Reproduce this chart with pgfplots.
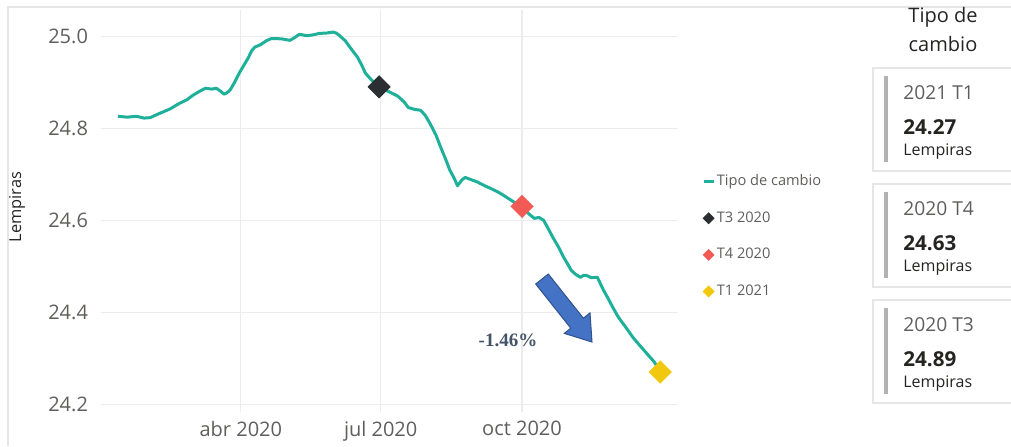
\documentclass[border=0pt]{standalone}
\usepackage{fontspec}
\setmainfont{Open Sans}
\newfontfamily\serifbold{Liberation Serif}
\usepackage{pgfplots}
\pgfplotsset{compat=1.18}

\definecolor{teal}{RGB}{31,176,154}
\definecolor{markdark}{RGB}{43,47,51}
\definecolor{markred}{RGB}{242,90,85}
\definecolor{markyellow}{RGB}{242,200,15}
\definecolor{txtgray}{RGB}{96,94,92}
\definecolor{txtdark}{RGB}{37,36,35}
\definecolor{gridgray}{RGB}{236,236,236}
\definecolor{cardline}{RGB}{230,230,230}
\definecolor{cardbar}{RGB}{178,178,178}
\definecolor{arrowfill}{RGB}{68,114,196}
\definecolor{arrowedge}{RGB}{47,82,143}
\definecolor{pcttext}{RGB}{68,84,106}

% daily exchange rate, days counted from 1 Jan 2020
\pgfplotstableread{
day rate
11 24.826
17 24.824
23 24.826
28 24.822
32 24.823
38 24.832
45 24.842
51 24.854
56 24.862
60 24.872
64 24.880
68 24.887
72 24.885
75 24.887
78 24.880
80 24.874
82 24.877
84 24.883
87 24.900
90 24.920
93 24.937
96 24.954
98 24.968
100 24.976
104 24.982
108 24.991
111 24.995
114 24.995
118 24.994
123 24.991
126 24.997
129 25.004
131 25.003
134 25.001
138 25.003
142 25.006
147 25.007
151 25.009
153 25.007
155 25.002
159 24.990
162 24.976
167 24.954
170 24.935
172 24.920
176 24.905
181 24.890
187 24.880
193 24.870
197 24.858
200 24.845
204 24.841
208 24.839
211 24.828
214 24.811
218 24.785
221 24.759
224 24.735
227 24.709
230 24.690
232 24.675
235 24.688
237 24.693
241 24.688
245 24.683
249 24.676
253 24.670
258 24.662
262 24.654
268 24.641
274 24.630
278 24.615
282 24.604
285 24.606
288 24.600
291 24.582
294 24.563
298 24.540
301 24.520
304 24.503
306 24.491
309 24.482
312 24.476
314 24.480
316 24.480
319 24.475
323 24.476
325 24.462
327 24.448
330 24.430
333 24.411
336 24.393
338 24.383
342 24.365
346 24.346
350 24.330
355 24.311
360 24.292
364 24.270
}\ratedata

\pgfplotsset{
  quarter mark/.style={only marks, mark=square*, mark size=3.9pt,
    mark options={rotate=45, fill=#1, draw=#1},
    legend image code/.code={%
      \draw[mark=square*, mark size=1.9pt, mark options={rotate=45, fill=#1, draw=#1}]
        plot coordinates {(2.5pt,0pt)};}},
}

\begin{document}
\begin{tikzpicture}
\path[use as bounding box] (0,0) rectangle (505.5pt,-223pt);

\begin{axis}[
  at={(50.5pt,-206pt)}, anchor=south west,
  scale only axis, width=288.5pt, height=201pt,
  xmin=0, xmax=375.5, ymin=24.183, ymax=25.057,
  axis line style={draw=none},
  tick style={draw=none},
  xtick={91,182,274},
  xticklabels={abr 2020, jul 2020, oct 2020},
  ytick={24.2,24.4,24.6,24.8,25.0},
  yticklabel style={/pgf/number format/fixed, /pgf/number format/fixed zerofill,
    /pgf/number format/precision=1, xshift=-3pt},
  /pgf/number format/assume math mode=true,
  ticklabel style={font=\fontsize{10}{12}\selectfont, text=txtgray},
  xticklabel style={yshift=-1pt},
  grid=major,
  major grid style={draw=gridgray, line width=0.6pt},
  ylabel={Lempiras},
  ylabel style={at={(axis description cs:-0.1456,0.51)}, anchor=center,
    font=\fontsize{8.2}{10}\selectfont, text=txtdark},
  clip=false,
  legend style={draw=none, fill=none, at={(axis description cs:1.0416,0.597)},
    anchor=north west, font=\fontsize{7.3}{9}\selectfont, text=txtgray,
    row sep=9.5pt, inner sep=0pt,
    nodes={inner sep=1pt}},
  legend cell align=left,
]
\addplot[teal, line width=1.5pt, line join=round, no markers,
  legend image code/.code={\draw[teal, line width=1.2pt] (0pt,0pt) -- (5pt,0pt);}]
  table[x=day, y=rate] {\ratedata};
\addlegendentry{Tipo de cambio}
\addplot[quarter mark=markdark] coordinates {(181,24.89)};
\addlegendentry{T3 2020}
\addplot[quarter mark=markred] coordinates {(274,24.63)};
\addlegendentry{T4 2020}
\addplot[quarter mark=markyellow] coordinates {(364,24.27)};
\addlegendentry{T1 2021}
\end{axis}

\begin{scope}[x=0.5pt, y=-0.5pt]
  % visual frame
  \draw[cardline, line width=0.6pt] (8,446) -- (8,7) -- (1011,7);

  % quarter cards
  \node[text=txtdark, font=\fontsize{10}{12}\selectfont] at (943,17) {Tipo de};
  \node[text=txtdark, font=\fontsize{10}{12}\selectfont] at (943,44) {cambio};
  \foreach \k/\lab/\val in {0/2021 T1/24.27, 1/2020 T4/24.63, 2/2020 T3/24.89} {
    \pgfmathsetmacro{\off}{116*\k}
    \draw[cardline, line width=0.6pt] (1012,68+\off) -- (873,68+\off) -- (873,171+\off) -- (1012,171+\off);
    \draw[cardbar, line width=2pt] (886,76+\off) -- (886,162+\off);
    \node[anchor=west, inner sep=0pt, text=txtgray, font=\fontsize{9.6}{11}\selectfont] at (903,93+\off) {\lab};
    \node[anchor=west, inner sep=0pt, text=txtdark, font=\fontsize{10.3}{12}\selectfont\bfseries] at (903,127+\off) {\val};
    \node[anchor=west, inner sep=0pt, text=txtdark, font=\fontsize{8}{9}\selectfont] at (903,152+\off) {Lempiras};
  }

  % trend arrow
  \draw[arrowedge, fill=arrowfill, line width=0.5pt, line join=miter]
    (548.3,274.0) -- (583.4,318.2) -- (590.0,312.9) -- (592,342)
    -- (564.3,333.4) -- (570.8,328.2) -- (535.7,284.0) -- cycle;
  \node[text=pcttext, font=\serifbold\fontsize{9.5}{11}\selectfont\bfseries] at (508,340) {-1.46\%};
\end{scope}
\end{tikzpicture}
\end{document}
